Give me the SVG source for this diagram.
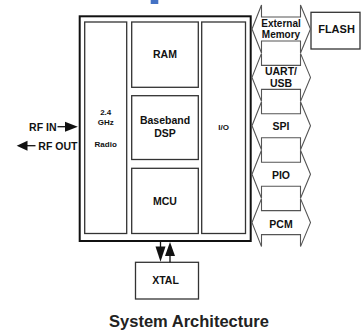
<svg xmlns="http://www.w3.org/2000/svg" width="361" height="332" viewBox="0 0 361 332">
<style>
text{font-family:"Liberation Sans",Arial,sans-serif;font-weight:bold;fill:#111;text-anchor:middle}
.box{fill:#fff;stroke:#333;stroke-width:1.3}
.bus{fill:#fff;stroke:#555;stroke-width:1.1;stroke-linejoin:miter}
.t{font-size:10.5px}
.s{font-size:8px}
.ln{stroke:#111;stroke-width:1.3;fill:none}
.hd{fill:#111;stroke:none}
</style>
<rect width="361" height="332" fill="#fff"/>
<rect x="150.7" y="0" width="7.6" height="4" fill="#4472C4"/>

<g id="chip">
<rect x="79.7" y="16.3" width="171" height="224.7" fill="#fff" stroke="#111" stroke-width="2"/>
</g>
<g id="radio">
<rect class="box" x="84.7" y="22" width="42" height="211.5"/>
<text class="s" x="105.7" y="115">2.4</text>
<text class="s" x="105.7" y="125">GHz</text>
<text class="s" x="105.7" y="147.3">Radio</text>
</g>
<g id="ram">
<rect class="box" x="131.7" y="22" width="66.6" height="65.3"/>
<text class="t" x="165" y="58.3">RAM</text>
</g>
<g id="dsp">
<rect class="box" x="131.7" y="95.7" width="66.6" height="63.8"/>
<text class="t" x="165" y="124">Baseband</text>
<text class="t" x="165" y="136.7">DSP</text>
</g>
<g id="mcu">
<rect class="box" x="131.7" y="168.3" width="66.6" height="65.2"/>
<text class="t" x="165" y="205">MCU</text>
</g>
<g id="io">
<rect class="box" x="201.7" y="22" width="43.8" height="211.5"/>
<text class="s" x="223.6" y="130">I/O</text>
</g>
<g id="flash">
<rect class="box" x="311" y="12.3" width="49" height="36.7"/>
<text style="font-size:11px" x="336.5" y="33.3">FLASH</text>
</g>
<g id="xtal">
<rect class="box" x="135.5" y="262.3" width="63" height="36.7"/>
<text class="t" x="165.5" y="284">XTAL</text>
</g>
<g id="rfin">
<text class="t" x="56.5" y="130.7" style="text-anchor:end">RF IN</text>
</g>
<g id="rfout">
<text class="t" x="38.3" y="150" style="text-anchor:start">RF OUT</text>
</g>

<g id="connectors">
<line class="ln" x1="57.5" y1="126.7" x2="67" y2="126.7"/>
<polygon class="hd" points="65,121.7 77.8,126.7 65,131.7"/>
<line class="ln" x1="25" y1="145.7" x2="35.5" y2="145.7"/>
<polygon class="hd" points="27.5,140.7 16.7,145.7 27.5,150.7"/>
<line class="ln" x1="160.5" y1="241" x2="160.5" y2="249"/>
<polygon class="hd" points="155.5,246.5 165.5,246.5 160.5,261.8"/>
<line class="ln" x1="170" y1="252" x2="170" y2="262.3"/>
<polygon class="hd" points="165,256 175,256 170,242"/>

<g id="bus-extmem">
<path class="bus" d="M261.5,17 H300.5 V5 L310.5,29 L300.5,53 V41 H261.5 V53 L252,29 L261.5,5 Z"/>
<text style="font-size:10px" x="281" y="27.3">External</text>
<text style="font-size:10px" x="281" y="38.3">Memory</text>
</g>
<g id="bus-uart">
<path class="bus" d="M261.5,65.4 H300.5 V53.4 L310.5,77.4 L300.5,101.4 V89.4 H261.5 V101.4 L252,77.4 L261.5,53.4 Z"/>
<text class="t" x="281" y="75">UART/</text>
<text class="t" x="281" y="87.3">USB</text>
</g>
<g id="bus-spi">
<path class="bus" d="M261.5,113.8 H300.5 V101.8 L310.5,125.8 L300.5,149.8 V137.8 H261.5 V149.8 L252,125.8 L261.5,101.8 Z"/>
<text class="t" x="281" y="130">SPI</text>
</g>
<g id="bus-pio">
<path class="bus" d="M261.5,162.2 H300.5 V150.2 L310.5,174.2 L300.5,198.2 V186.2 H261.5 V198.2 L252,174.2 L261.5,150.2 Z"/>
<text class="t" x="281" y="179.3">PIO</text>
</g>
<g id="bus-pcm">
<path class="bus" d="M261.5,210.6 H300.5 V198.6 L310.5,222.6 L300.5,246.6 V234.6 H261.5 V246.6 L252,222.6 L261.5,198.6 Z"/>
<text class="t" x="281" y="228">PCM</text>
</g>
</g>

<text x="189" y="326.5" style="font-size:16.5px;fill:#222">System Architecture</text>
</svg>
